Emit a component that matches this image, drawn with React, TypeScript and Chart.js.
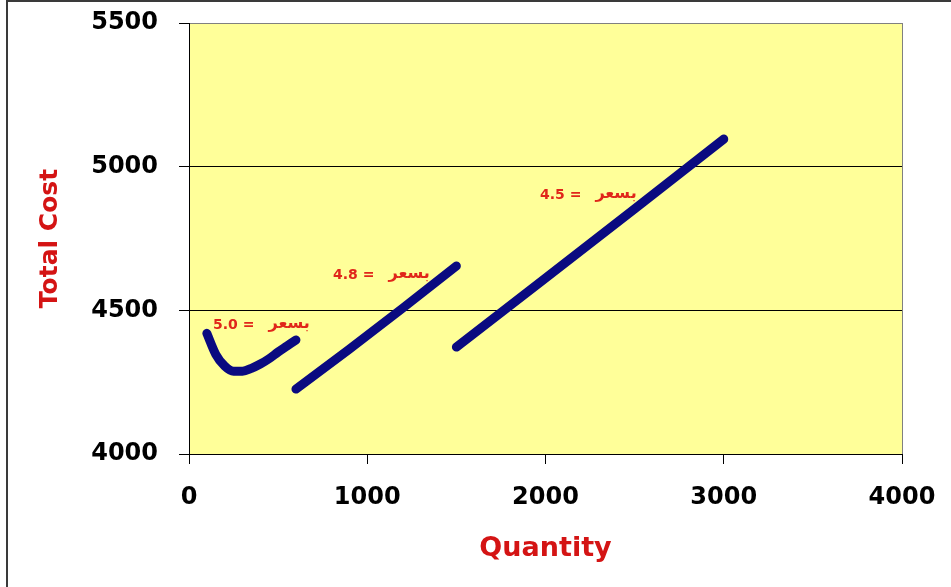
import React, { useEffect, useRef } from "react";
import { Chart, registerables } from "chart.js";

Chart.register(...registerables);

// Price 5.0 segment (curved)
const qty50 = [100, 150, 200, 250, 300, 350, 400, 450, 500, 550, 600];
const cost50 = [4420, 4347, 4306, 4288, 4288, 4298, 4313, 4332, 4355, 4376, 4397];
// Price 4.8 segment
const qty48 = [600, 900, 1200, 1500];
const cost48 = [4226, 4365, 4508, 4654];
// Price 4.5 segment
const qty45 = [1500, 2000, 2500, 3000];
const cost45 = [4372, 4612, 4853, 5096];

// Labels placed in data units (left edge, vertical centre)
const labelQty = [135, 808, 1969];
const labelCost = [4449, 4623, 4901];
const labelPrice = ["5.0", "4.8", "4.5"];
const labelWord = "بسعر";

const xTicks = [0, 1000, 2000, 3000, 4000];
const yTicks = [4000, 4500, 5000, 5500];

const toPoints = (xs: number[], ys: number[]) => xs.map((x, i) => ({ x, y: ys[i] }));

const bgPlugin = {
  id: "plotBg",
  beforeDraw(chart: any) {
    const { ctx, chartArea } = chart;
    ctx.save();
    ctx.fillStyle = "#FFFF99";
    ctx.fillRect(chartArea.left, chartArea.top, chartArea.right - chartArea.left, chartArea.bottom - chartArea.top);
    ctx.restore();
  },
};

const labelPlugin = {
  id: "priceLabels",
  afterDatasetsDraw(chart: any) {
    const { ctx } = chart;
    const xs = chart.scales.x;
    const ys = chart.scales.y;
    ctx.save();
    ctx.fillStyle = "#E0261A";
    ctx.textAlign = "left";
    ctx.textBaseline = "middle";
    ctx.direction = "ltr";
    labelPrice.forEach((p, i) => {
      const x = xs.getPixelForValue(labelQty[i]);
      const y = ys.getPixelForValue(labelCost[i]);
      ctx.font = "bold 14px 'DejaVu Sans', sans-serif";
      const t = `${p} =`;
      ctx.fillText(t, x, y);
      const w = ctx.measureText(t).width;
      ctx.font = "bold 16px 'DejaVu Sans', sans-serif";
      ctx.fillText(labelWord, x + w + 14, y - 1);
    });
    ctx.restore();
  },
};

export default function App() {
  const ref = useRef<HTMLCanvasElement | null>(null);
  useEffect(() => {
    if (!ref.current) return;
    const lineStyle = {
      borderColor: "#0A0A80",
      borderWidth: 9,
      pointRadius: 0,
      borderCapStyle: "round" as const,
      borderJoinStyle: "round" as const,
      fill: false,
    };
    const chart = new Chart(ref.current, {
      type: "line",
      data: {
        datasets: [
          { ...lineStyle, data: toPoints(qty50, cost50), tension: 0.4, cubicInterpolationMode: "monotone" as const },
          { ...lineStyle, data: toPoints(qty48, cost48), tension: 0 },
          { ...lineStyle, data: toPoints(qty45, cost45), tension: 0 },
        ],
      },
      options: {
        animation: false,
        responsive: false,
        devicePixelRatio: 1,
        layout: { padding: { left: 0, top: 23, right: 49, bottom: 0 } },
        plugins: { legend: { display: false }, tooltip: { enabled: false } },
        scales: {
          x: {
            type: "linear",
            min: 0,
            max: 4000,
            afterBuildTicks: (s: any) => {
              s.ticks = xTicks.map((v) => ({ value: v }));
            },
            afterFit: (s: any) => {
              s.height = 133;
              s.paddingLeft = 0;
              s.paddingRight = 0;
            },
            ticks: {
              color: "#000",
              padding: 19,
              maxRotation: 0,
              callback: (v: any) => String(v),
              font: { family: "'DejaVu Sans'", size: 24, weight: "bold" },
            },
            grid: {
              drawOnChartArea: true,
              color: (c: any) => (c.tick && c.tick.value === 4000 ? "#808080" : "rgba(0,0,0,0)"),
              tickColor: "#000",
              tickLength: 10,
              lineWidth: 1,
            },
            border: { color: "#000", width: 1 },
            title: {
              display: true,
              text: "Quantity",
              color: "#D41414",
              font: { family: "'DejaVu Sans'", size: 27, weight: "bold" },
              padding: { top: 0, bottom: 22 },
            },
          },
          y: {
            type: "linear",
            min: 4000,
            max: 5500,
            afterBuildTicks: (s: any) => {
              s.ticks = yTicks.map((v) => ({ value: v }));
            },
            afterFit: (s: any) => {
              s.width = 189;
              s.paddingTop = 0;
              s.paddingBottom = 0;
            },
            ticks: {
              color: "#000",
              padding: 21,
              callback: (v: any) => String(v),
              font: { family: "'DejaVu Sans'", size: 24, weight: "bold" },
            },
            grid: {
              drawOnChartArea: true,
              color: (c: any) =>
                c.tick && c.tick.value === 5500 ? "#808080" : c.tick && c.tick.value === 4000 ? "rgba(0,0,0,0)" : "#000",
              tickColor: "#000",
              tickLength: 10,
              lineWidth: 1,
            },
            border: { color: "#000", width: 1 },
            title: {
              display: true,
              text: "Total Cost",
              color: "#D41414",
              font: { family: "'DejaVu Sans'", size: 25, weight: "bold" },
              padding: { top: 35, bottom: 0 },
            },
          },
        },
      },
      plugins: [bgPlugin, labelPlugin],
    });
    return () => chart.destroy();
  }, []);

  return (
    <div style={{ position: "fixed", left: 0, top: 0, width: 951, height: 587, background: "#fff" }}>
      <canvas ref={ref} width={951} height={587} style={{ position: "absolute", left: 0, top: 0, width: 951, height: 587 }} />
      <div
        style={{
          position: "absolute",
          left: 6,
          top: 0,
          right: 0,
          bottom: 0,
          borderLeft: "2px solid #3a3a3a",
          borderTop: "2px solid #3a3a3a",
          pointerEvents: "none",
        }}
      />
    </div>
  );
}
